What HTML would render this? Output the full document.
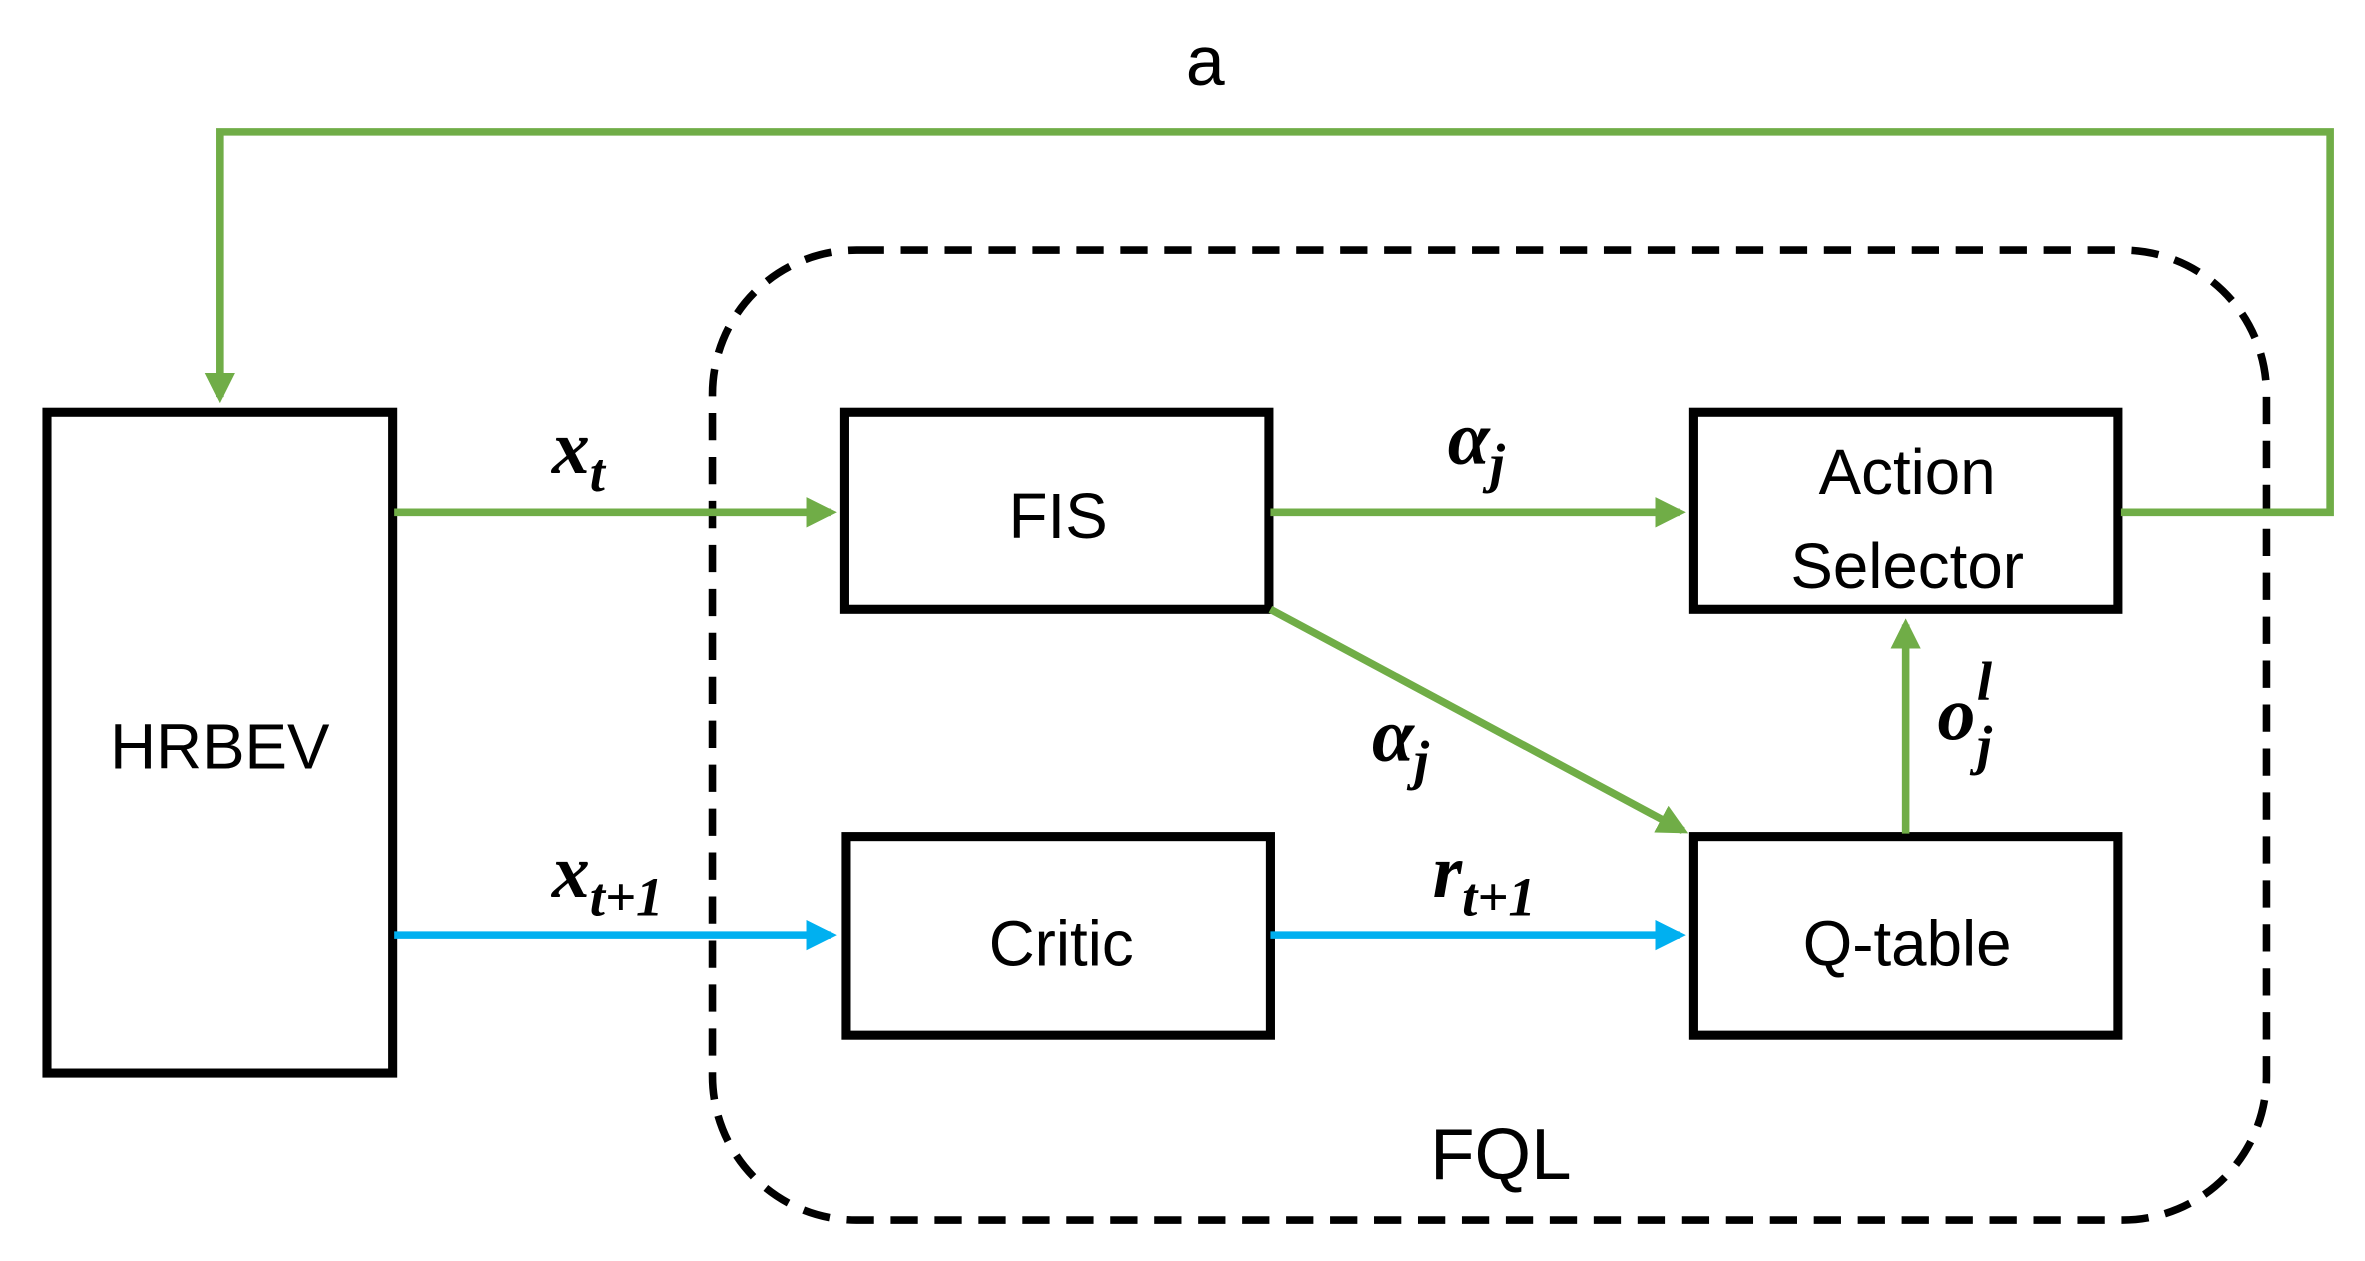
<!DOCTYPE html>
<html><head><meta charset="utf-8"><style>html,body{margin:0;padding:0;background:#fff}svg{display:block}</style></head>
<body>
<svg width="2365" height="1261" viewBox="0 0 1560 832" preserveAspectRatio="none" xmlns="http://www.w3.org/2000/svg">
<defs>
<marker id="g" markerWidth="4" markerHeight="4" refX="3.2" refY="2" orient="auto" markerUnits="strokeWidth"><path d="M0,0 L4,2 L0,4 z" fill="#70ad47"/></marker>
<marker id="b" markerWidth="4" markerHeight="4" refX="3.2" refY="2" orient="auto" markerUnits="strokeWidth"><path d="M0,0 L4,2 L0,4 z" fill="#00b0f0"/></marker>
</defs>
<rect x="470" y="165" width="1025" height="640" rx="95" ry="95" fill="none" stroke="#000" stroke-width="5" stroke-dasharray="18,11"/>
<g fill="none" stroke="#000" stroke-width="6">
<rect x="31" y="272" width="228" height="436"/>
<rect x="557" y="272" width="280" height="130"/>
<rect x="1117" y="272" width="280" height="130"/>
<rect x="558" y="552" width="280" height="131"/>
<rect x="1117" y="552" width="280" height="131"/>
</g>
<g fill="none" stroke="#70ad47" stroke-width="5">
<polyline points="1399,338 1537,338 1537,87 145,87 145,262" marker-end="url(#g)"/>
<line x1="260" y1="338" x2="548" y2="338" marker-end="url(#g)"/>
<line x1="838" y1="338" x2="1108" y2="338" marker-end="url(#g)"/>
<line x1="838" y1="402" x2="1110" y2="548" marker-end="url(#g)"/>
<line x1="1257" y1="550" x2="1257" y2="412" marker-end="url(#g)" stroke-width="5"/>
</g>
<g fill="none" stroke="#00b0f0" stroke-width="5">
<line x1="260" y1="617" x2="548" y2="617" marker-end="url(#b)"/>
<line x1="838" y1="617" x2="1108" y2="617" marker-end="url(#b)"/>
</g>
<g font-family="Liberation Sans, sans-serif" font-size="42" text-anchor="middle" fill="#000">
<text x="795" y="56" font-size="46">a</text>
<text x="145" y="507">HRBEV</text>
<text x="698" y="355">FIS</text>
<text x="1258" y="326">Action</text>
<text x="1258" y="388">Selector</text>
<text x="700" y="637">Critic</text>
<text x="1258" y="637">Q-table</text>
<text x="990" y="778" font-size="48">FQL</text>
</g>
<g font-family="Liberation Serif, serif" font-style="italic" font-weight="bold" font-size="50" fill="#000">
<text x="364" y="312">x<tspan font-size="36" dy="12">t</tspan></text>
<text x="955" y="306">α<tspan font-size="36" dy="12">j</tspan></text>
<text x="905" y="502">α<tspan font-size="36" dy="12">j</tspan></text>
<text x="364" y="592">x<tspan font-size="36" dy="12">t+1</tspan></text>
<text x="945" y="592">r<tspan font-size="36" dy="12">t+1</tspan></text>
<text x="1278" y="488">o<tspan font-size="36" dx="1" dy="-26">l</tspan><tspan font-size="36" dx="-10" dy="42">j</tspan></text>
</g>
</svg>
</body></html>
